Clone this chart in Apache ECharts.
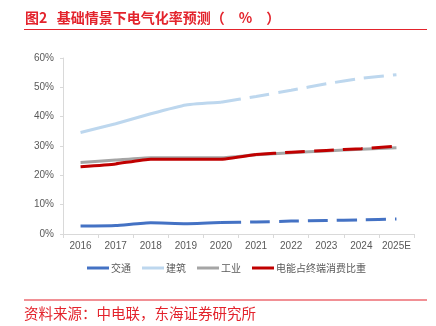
<!DOCTYPE html>
<html>
<head>
<meta charset="utf-8">
<script src="https://cdn.jsdelivr.net/npm/echarts@6/dist/echarts.min.js"></script>
<style>
  html, body { margin: 0; padding: 0; background: #fff; }
  #chart { width: 436px; height: 326px; }
</style>
</head>
<body>
<div id="chart"></div>
<script>
// Years on the category axis
const years = ['2016', '2017', '2018', '2019', '2020', '2021', '2022', '2023', '2024', '2025E'];
// Electrification rate by sector (%)
const transport = [2.7, 2.9, 3.8, 3.5, 3.9, 4.1, 4.4, 4.6, 4.8, 5.1];
const building = [34.6, 37.6, 41.0, 44.0, 44.9, 46.9, 49.0, 51.2, 53.1, 54.3];
const industry = [24.4, 25.2, 26.0, 26.0, 26.0, 27.0, 27.7, 28.3, 28.9, 29.4];
const terminal = [22.9, 23.9, 25.5, 25.5, 25.5, 27.1, 27.9, 28.5, 29.1, 29.9];
// Index of the last actual year for each series (later values are forecasts)
const actualEnd = { transport: 4, building: 4, industry: 9, terminal: 5 };
const yTicks = [0, 10, 20, 30, 40, 50, 60];

const names = ['交通', '建筑', '工业', '电能占终端消费比重'];
const colors = ['#4472C4', '#BDD7EE', '#A5A5A5', '#C00000'];
const seriesData = [transport, building, industry, terminal];
const ends = [actualEnd.transport, actualEnd.building, actualEnd.industry, actualEnd.terminal];

const cn = '"Noto Sans CJK SC", "Liberation Sans", sans-serif';
const num = '"Liberation Sans", Arial, sans-serif';

const series = [];
seriesData.forEach((vals, i) => {
  const end = ends[i];
  const solid = vals.map((v, k) => (k <= end ? v : null));
  const dashed = vals.map((v, k) => (k >= end ? v : null));
  series.push({
    name: names[i], type: 'line', data: solid, symbol: 'none', smooth: 0.15,
    z: i === 3 ? 5 : 2,
    lineStyle: { color: colors[i], width: 3 }, itemStyle: { color: colors[i] }
  });
  if (end < vals.length - 1) {
    series.push({
      name: names[i], type: 'line', data: dashed, symbol: 'none', smooth: 0.15,
      z: i === 3 ? 5 : 2,
      lineStyle: { color: colors[i], width: 3, type: [20, 9], cap: 'butt' }, itemStyle: { color: colors[i] }
    });
  }
});

const chart = echarts.init(document.getElementById('chart'), null, { renderer: 'canvas' });
chart.setOption({
  animation: false,
  backgroundColor: '#fff',
  title: [
    {
      text: '图2   基础情景下电气化率预测（\u3000%\u3000）',
      left: 25, top: 11, padding: 0,
      textStyle: { color: '#E3232C', fontSize: 14, fontWeight: 'bold', fontFamily: cn }
    },
    {
      text: '资料来源：中电联，东海证券研究所',
      left: 24, top: 306.5, padding: 0,
      textStyle: { color: '#E3232C', fontSize: 14.5, fontWeight: 'normal', fontFamily: cn }
    }
  ],
  graphic: [
    { type: 'line', shape: { x1: 24, y1: 29.5, x2: 427, y2: 29.5 }, style: { stroke: '#E3232C', lineWidth: 1.2 } },
    { type: 'line', shape: { x1: 24, y1: 300, x2: 427, y2: 300 }, style: { stroke: '#E3232C', lineWidth: 1.2 } }
  ],
  grid: { left: 63, right: 22, top: 58, bottom: 92 },
  legend: {
    data: names,
    top: 263, left: 87, padding: 0,
    icon: 'rect',
    itemWidth: 22, itemHeight: 3, itemGap: 11,
    textStyle: { color: '#595959', fontSize: 10, fontFamily: cn, padding: [0, 0, 0, -3] }
  },
  xAxis: {
    type: 'category',
    data: years,
    boundaryGap: true,
    axisLine: { lineStyle: { color: '#D9D9D9', width: 1 } },
    axisTick: { show: true, lineStyle: { color: '#D9D9D9' }, length: 4 },
    axisLabel: { color: '#595959', fontSize: 10, fontFamily: num, margin: 7, interval: 0 }
  },
  yAxis: {
    type: 'value',
    min: yTicks[0], max: yTicks[yTicks.length - 1], interval: 10,
    axisLine: { show: true, lineStyle: { color: '#D9D9D9', width: 1 } },
    axisTick: { show: true, lineStyle: { color: '#D9D9D9' }, length: 3 },
    splitLine: { show: false },
    axisLabel: { color: '#595959', fontSize: 10, fontFamily: num, margin: 9, formatter: v => v + '%' }
  },
  series: series
});
</script>
</body>
</html>
